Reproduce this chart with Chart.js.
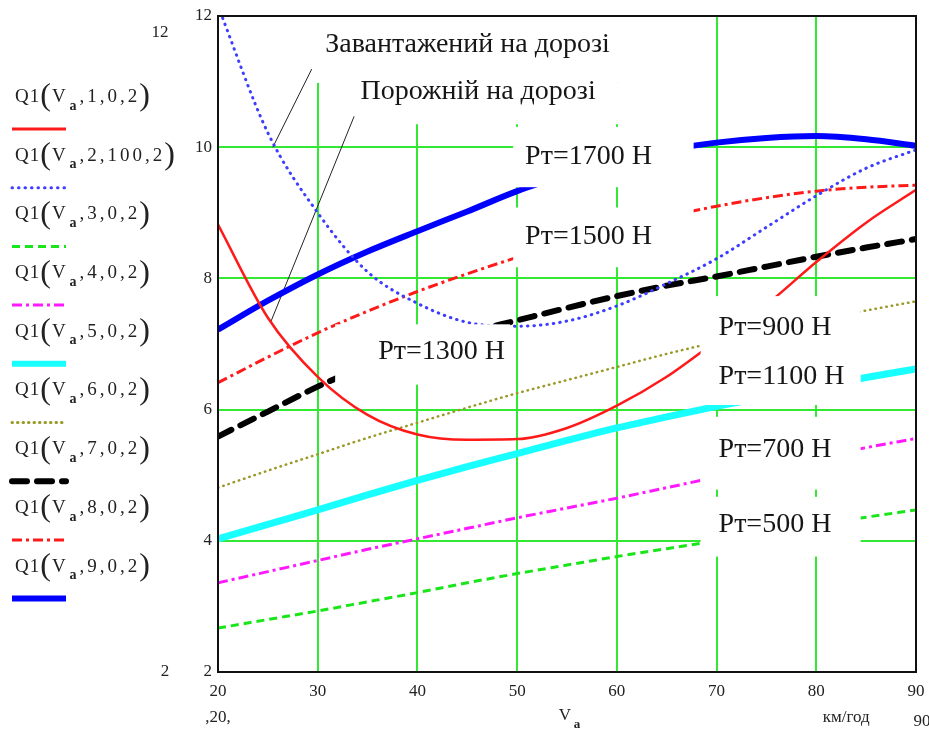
<!DOCTYPE html>
<html>
<head>
<meta charset="utf-8">
<script src="https://cdn.jsdelivr.net/npm/chart.js@4.4.1/dist/chart.umd.min.js"></script>
<style>
  html, body { margin: 0; padding: 0; background: #fff; }
  #wrap { width: 929px; height: 737px; position: relative; }
</style>
</head>
<body>
<div id="wrap"><canvas id="fuelChart" width="929" height="737"></canvas></div>
<script>
// speed, km/h
const speeds = [20, 25, 30, 35, 40, 45, 50, 55, 60, 65, 70, 75, 80, 85, 90];

// Q1 curves
const loadedRoad = [8.82, 7.40, 6.50, 5.92, 5.62, 5.54, 5.55, 5.72, 6.06, 6.50, 7.05, 7.60, 8.25, 8.85, 9.35];
const emptyRoad = [12.15, 10.22, 9.00, 8.10, 7.62, 7.33, 7.27, 7.35, 7.58, 7.92, 8.30, 8.78, 9.26, 9.68, 9.96];
const pull500 = [2.67, 2.80, 2.93, 3.07, 3.21, 3.36, 3.50, 3.63, 3.76, 3.88, 4.00, 4.12, 4.24, 4.36, 4.47];
const pull700 = [3.36, 3.53, 3.70, 3.87, 4.03, 4.19, 4.35, 4.50, 4.65, 4.81, 4.97, 5.12, 5.27, 5.42, 5.56];
const pull1100 = [4.03, 4.25, 4.47, 4.70, 4.92, 5.13, 5.33, 5.53, 5.72, 5.89, 6.05, 6.20, 6.35, 6.49, 6.62];
const pull900 = [4.81, 5.07, 5.32, 5.57, 5.80, 6.03, 6.25, 6.45, 6.65, 6.85, 7.03, 7.20, 7.36, 7.51, 7.65];
const pull1300 = [5.59, 5.97, 6.35, 6.68, 6.95, 7.17, 7.36, 7.55, 7.73, 7.89, 8.03, 8.18, 8.33, 8.47, 8.60];
const pull1500 = [6.41, 6.80, 7.17, 7.50, 7.80, 8.07, 8.32, 8.55, 8.75, 8.94, 9.10, 9.23, 9.33, 9.39, 9.42];
const pull1700 = [7.22, 7.66, 8.06, 8.41, 8.72, 9.02, 9.33, 9.58, 9.80, 9.96, 10.07, 10.14, 10.17, 10.12, 10.02];

// leader lines from the captions
const leaderLoadedX = [25.5, 29.4];
const leaderLoadedY = [10.0, 11.19];
const leaderEmptyX = [25.3, 33.65];
const leaderEmptyY = [7.34, 10.47];

// legend arguments of Q1(Va, ...)
const legendArgs = ["1,0,2", "2,100,2", "3,0,2", "4,0,2", "5,0,2", "6,0,2", "7,0,2", "8,0,2", "9,0,2"];

const xTicks = [20, 30, 40, 50, 60, 70, 80, 90];
const yTicks = [2, 4, 6, 8, 10, 12];

const SERIF = '"Liberation Serif", "DejaVu Serif", serif';

function toPoints(xs, ys) {
  return xs.map((x, i) => ({ x: x, y: ys[i] }));
}

function curve(values, color, width, dash, args, cap) {
  return {
    data: toPoints(speeds, values),
    borderColor: color,
    borderWidth: width,
    borderDash: dash,
    borderCapStyle: cap || "butt",
    legendArgs: args,
    showLine: true,
    pointRadius: 0,
    cubicInterpolationMode: "monotone",
    fill: false,
  };
}

function leader(xs, ys) {
  return {
    data: toPoints(xs, ys),
    borderColor: "#222",
    borderWidth: 1,
    showLine: true,
    pointRadius: 0,
    fill: false,
  };
}

// white caption boxes (data units) which hide curves and grid under them
const captionBoxes = [
  { x1: 29.7, x2: 60.6, y1: 10.98, y2: 12.3 },
  { x1: 34.0, x2: 60.6, y1: 10.35, y2: 10.98 },
  { x1: 49.6, x2: 67.7, y1: 9.39, y2: 10.31 },
  { x1: 49.6, x2: 67.7, y1: 8.17, y2: 9.08 },
  { x1: 31.75, x2: 49.3, y1: 6.38, y2: 7.30 },
  { x1: 68.4, x2: 84.45, y1: 6.07, y2: 7.73 },
  { x1: 68.4, x2: 84.45, y1: 4.78, y2: 5.89 },
  { x1: 68.4, x2: 84.45, y1: 3.76, y2: 4.67 },
];

const captions = [
  { text: "Завантажений на дорозі", x: 30.75, y: 11.57 },
  { text: "Порожній на дорозі", x: 34.3, y: 10.85 },
  { text: "Рт=1700 Н", x: 50.8, y: 9.86 },
  { text: "Рт=1500 Н", x: 50.8, y: 8.63 },
  { text: "Рт=1300 Н", x: 36.06, y: 6.89 },
  { text: "Рт=900 Н", x: 70.2, y: 7.25 },
  { text: "Рт=1100 Н", x: 70.2, y: 6.5 },
  { text: "Рт=700 Н", x: 70.2, y: 5.39 },
  { text: "Рт=500 Н", x: 70.2, y: 4.24 },
];

// draws text one glyph at a time with extra spacing, returns new x
function spacedText(ctx, text, x, y, gap) {
  for (const ch of text) {
    ctx.fillText(ch, x, y);
    x += ctx.measureText(ch).width + gap;
  }
  return x;
}

const captionPlugin = {
  id: "captions",
  afterDatasetsDraw(chart) {
    const ctx = chart.ctx;
    const xs = chart.scales.x;
    const ys = chart.scales.y;
    const area = chart.chartArea;
    ctx.save();
    ctx.beginPath();
    ctx.rect(area.left + 1, area.top + 1, area.right - area.left - 2, area.bottom - area.top - 2);
    ctx.clip();
    ctx.fillStyle = "#fff";
    captionBoxes.forEach((b) => {
      const l = xs.getPixelForValue(b.x1);
      const r = xs.getPixelForValue(b.x2);
      const t = ys.getPixelForValue(b.y2);
      const bt = ys.getPixelForValue(b.y1);
      ctx.fillRect(l, t, r - l, bt - t);
    });
    ctx.restore();

    ctx.save();
    ctx.fillStyle = "#161616";
    ctx.font = "28px " + SERIF;
    ctx.textBaseline = "middle";
    captions.forEach((c) => {
      ctx.fillText(c.text, xs.getPixelForValue(c.x), ys.getPixelForValue(c.y));
    });
    ctx.restore();
  },
  afterDraw(chart) {
    const ctx = chart.ctx;
    const a = chart.chartArea;
    const xs = chart.scales.x;
    ctx.save();
    // frame
    ctx.strokeStyle = "#111";
    ctx.lineWidth = 2;
    ctx.strokeRect(a.left, a.top, a.right - a.left, a.bottom - a.top);

    // legend on the left
    chart.data.datasets.forEach((ds, i) => {
      if (!ds.legendArgs) return;
      const rowY = 97 + i * 58.7;
      let x = 15;
      ctx.fillStyle = "#222";
      ctx.textBaseline = "middle";
      ctx.font = "19px " + SERIF;
      x = spacedText(ctx, "Q1", x, rowY, 1);
      ctx.font = "32px " + SERIF;
      ctx.fillText("(", x, rowY);
      x += ctx.measureText("(").width + 1;
      ctx.font = "19px " + SERIF;
      ctx.fillText("V", x, rowY);
      x += ctx.measureText("V").width + 4;
      ctx.font = "bold 14px " + SERIF;
      ctx.fillText("a", x, rowY + 9);
      x += ctx.measureText("a").width + 3;
      ctx.font = "19px " + SERIF;
      x = spacedText(ctx, "," + ds.legendArgs, x, rowY, 3);
      ctx.font = "32px " + SERIF;
      ctx.fillText(")", x - 1, rowY);

      const sy = rowY + 32;
      ctx.beginPath();
      ctx.strokeStyle = ds.borderColor;
      ctx.lineWidth = Math.max(Math.min(ds.borderWidth, 6), 3);
      ctx.lineCap = ds.borderCapStyle;
      ctx.setLineDash(ds.borderDash || []);
      ctx.moveTo(12, sy);
      ctx.lineTo(66, sy);
      ctx.stroke();
      ctx.setLineDash([]);
    });

    // Mathcad axis limit labels
    ctx.fillStyle = "#222";
    ctx.font = "17px " + SERIF;
    ctx.textAlign = "center";
    ctx.textBaseline = "middle";
    ctx.fillText("12", 160, 33);
    ctx.fillText("2", 165, 672);
    ctx.fillText(",20,", xs.getPixelForValue(20), 718);
    ctx.fillText("км/год", xs.getPixelForValue(83), 718);
    ctx.fillText("90", xs.getPixelForValue(90) + 6, 722);
    const vx = xs.getPixelForValue(55);
    ctx.fillText("V", vx - 2, 716);
    ctx.font = "bold 13px " + SERIF;
    ctx.fillText("a", vx + 10, 725);
    ctx.restore();
  },
};

const config = {
  type: "scatter",
  data: {
    datasets: [
      curve(loadedRoad, "#ff1a1a", 2.5, [], legendArgs[0]),
      curve(emptyRoad, "#3d3dff", 3, [0.5, 6], legendArgs[1], "round"),
      curve(pull500, "#19e619", 3, [8, 5], legendArgs[2]),
      curve(pull700, "#ff19ff", 3, [10, 4, 3, 4], legendArgs[3]),
      curve(pull1100, "#19ffff", 7, [], legendArgs[4]),
      curve(pull900, "#9a9a2a", 2.5, [0.5, 5], legendArgs[5], "round"),
      curve(pull1300, "#000", 6, [15, 10], legendArgs[6], "round"),
      curve(pull1500, "#ff1a1a", 3, [10, 4, 3, 4], legendArgs[7]),
      curve(pull1700, "#0000ff", 6, [], legendArgs[8]),
      leader(leaderLoadedX, leaderLoadedY),
      leader(leaderEmptyX, leaderEmptyY),
    ],
  },
  options: {
    responsive: false,
    animation: false,
    devicePixelRatio: 1,
    layout: { padding: { top: 16, right: 13, left: 0, bottom: 0 } },
    plugins: {
      legend: { display: false },
      tooltip: { enabled: false },
    },
    scales: {
      x: {
        type: "linear",
        min: 20,
        max: 90,
        afterFit: (s) => {
          s.height = 65;
          s.paddingLeft = 0;
          s.paddingRight = 0;
        },
        afterBuildTicks: (s) => { s.ticks = xTicks.map((v) => ({ value: v })); },
        ticks: { color: "#222", font: { family: SERIF, size: 17 }, padding: 9, maxRotation: 0 },
        grid: { color: "#33e833", lineWidth: 2, drawTicks: false },
        border: { display: true, color: "#111", width: 2 },
      },
      y: {
        min: 2,
        max: 12,
        afterFit: (s) => {
          s.width = 218;
          s.paddingTop = 0;
          s.paddingBottom = 0;
        },
        afterBuildTicks: (s) => { s.ticks = yTicks.map((v) => ({ value: v })); },
        ticks: { color: "#222", font: { family: SERIF, size: 17 }, padding: 6 },
        grid: { color: "#33e833", lineWidth: 2, drawTicks: false },
        border: { display: true, color: "#111", width: 2 },
      },
    },
  },
  plugins: [captionPlugin],
};

new Chart(document.getElementById("fuelChart"), config);
</script>
</body>
</html>
